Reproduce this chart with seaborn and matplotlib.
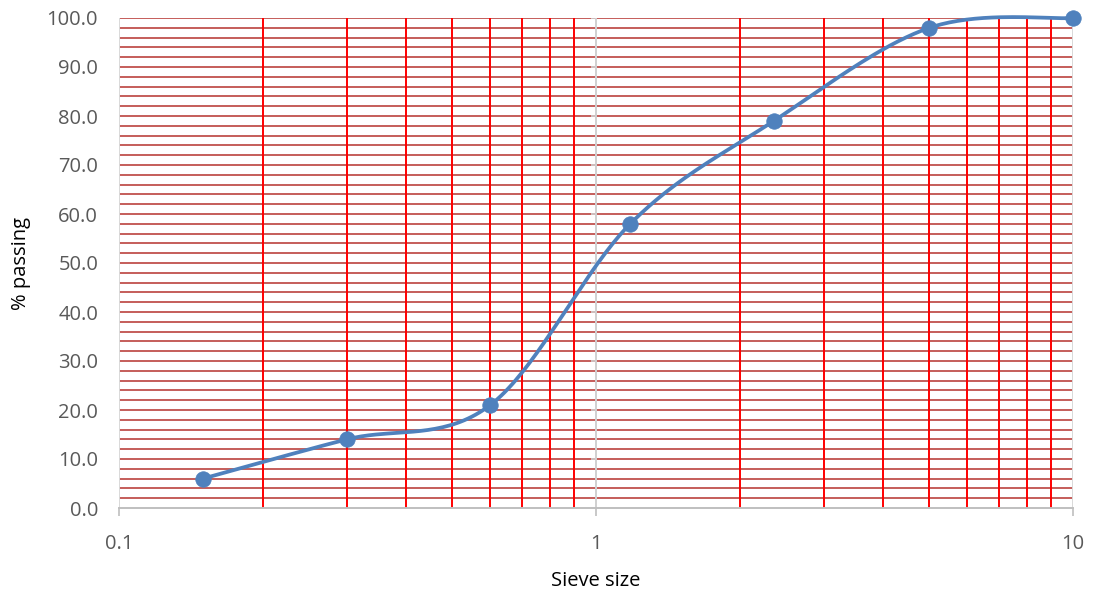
import numpy as np
import pandas as pd
import matplotlib
matplotlib.use("Agg")
import matplotlib.pyplot as plt
import seaborn as sns

sieve_size = [0.15, 0.3, 0.6, 1.18, 2.36, 5.0, 10.0]
percent_passing = [6.0, 14.0, 21.0, 58.0, 79.0, 98.0, 100.0]
x_ticks = [0.1, 1, 10]
x_tick_labels = ["0.1", "1", "10"]
y_ticks = [0, 10, 20, 30, 40, 50, 60, 70, 80, 90, 100]
y_tick_labels = ["%.1f" % v for v in y_ticks]

df = pd.DataFrame({"size": sieve_size, "passing": percent_passing})

sns.set_theme(style="white")
plt.rcParams["font.family"] = ["Open Sans", "DejaVu Sans"]

fig = plt.figure(figsize=(10.95, 5.95), dpi=100)
ax = fig.add_axes([119/1095, 1-508/595, (1073-119)/1095, (508-18)/595])
ax.set_xscale("log")
ax.set_xlim(0.1, 10)
ax.set_ylim(0, 100)

# grid lines
for v in np.arange(2, 101, 2):
    ax.axhline(v, color="#C0504D", lw=1.3, zorder=1)
for dec in [0.1, 1]:
    for m in range(2, 10):
        ax.axvline(dec*m, color="#FF0000", lw=1.4, zorder=1)
for v in [0.1, 10]:
    ax.axvline(v, color="#D9D9D9", lw=1.4, zorder=1)
ax.axvline(1, color="#D0D0D0", lw=1.4, zorder=2)
for v in y_ticks[1:]:
    ax.plot([0.975, 1.0], [v, v], color="#D0D0D0", lw=1.2, zorder=2, solid_capstyle="butt")

# smooth curve (Catmull-Rom in display-like coordinates: log10 x, y)
lx = np.log10(np.array(sieve_size))
yy = np.array(percent_passing)
P = np.column_stack([lx * 47.7, yy * 4.9])
pts = []
n = len(P)
for i in range(n - 1):
    p0 = P[i - 1] if i > 0 else P[i]
    p1 = P[i]
    p2 = P[i + 1]
    p3 = P[i + 2] if i + 2 < n else P[i + 1]
    c1 = p1 + (p2 - p0) / 6.0
    c2 = p2 - (p3 - p1) / 6.0
    t = np.linspace(0, 1, 40)[:, None]
    b = (1-t)**3*p1 + 3*(1-t)**2*t*c1 + 3*(1-t)*t**2*c2 + t**3*p2
    pts.append(b)
curve = np.vstack(pts)
ax.plot(10**(curve[:, 0]/47.7), curve[:, 1]/4.9, color="#4F81BD", lw=2.7, zorder=3,
        solid_capstyle="round", clip_on=False)

sns.scatterplot(data=df, x="size", y="passing", ax=ax, color="#4F81BD", s=125,
                edgecolor="#4F81BD", linewidth=0.5, zorder=4, clip_on=False)

for side in ["top", "right", "left"]:
    ax.spines[side].set_visible(False)
ax.spines["bottom"].set_color("#BFBFBF")
ax.spines["bottom"].set_linewidth(1.4)

ax.set_xticks(x_ticks)
ax.set_xticklabels(x_tick_labels)
ax.xaxis.set_minor_locator(matplotlib.ticker.NullLocator())
ax.set_yticks(y_ticks)
ax.set_yticklabels(y_tick_labels)
ax.tick_params(axis="x", which="major", direction="out", length=6, color="#BFBFBF",
               width=1.2, labelsize=14.5, labelcolor="#595959", pad=13, bottom=True)
ax.tick_params(axis="y", length=0, labelsize=14.5, labelcolor="#595959", pad=15)

ax.set_xlabel("Sieve size", fontsize=14.5, color="#000000", labelpad=12)
ax.set_ylabel("% passing", fontsize=14.5, color="#000000", labelpad=11)

fig.savefig("out.png", dpi=100)
